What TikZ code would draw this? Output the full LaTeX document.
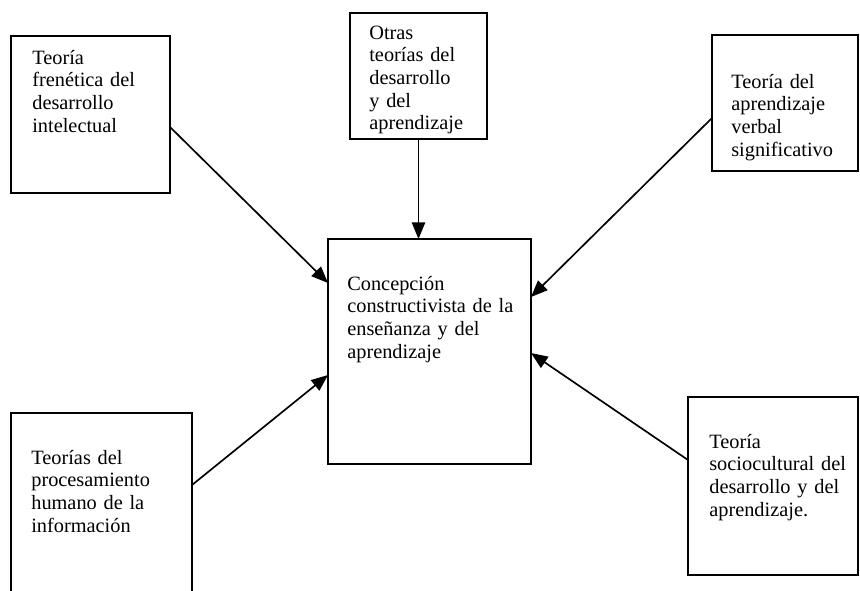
\documentclass[tikz,border=0pt]{standalone}
\usepackage{fontspec}
\setmainfont{Liberation Serif}
\usepackage{tikz}
\usetikzlibrary{arrows.meta}

\tikzset{
  caja/.style={draw,line width=1.2pt,rectangle,inner sep=0pt,outer sep=0pt},
  texto/.style={anchor=base west,inner sep=0pt,align=left,text width=130pt,
    font=\fontsize{12.2}{13.6}\selectfont},
  flecha/.style={-{Triangle[length=10pt,width=8pt]},line width=1pt}
}

\begin{document}
\begin{tikzpicture}[x=0.6pt,y=-0.6pt]
  \clip (0,0) rectangle (860,591);
  % boxes (pixel positions, y downwards)
  \node[caja,minimum width=95.4pt,minimum height=94.2pt] (A) at (90.5,114.5) {};
  \node[caja,minimum width=82.2pt,minimum height=75.6pt] (B) at (418.5,76) {};
  \node[caja,minimum width=87.6pt,minimum height=81.6pt] (C) at (785,103) {};
  \node[caja,minimum width=121.8pt,minimum height=135pt] (D) at (429.5,351.5) {};
  \node[caja,minimum width=108.6pt,minimum height=115.2pt] (E) at (101.5,509) {};
  \node[caja,minimum width=102pt,minimum height=106.8pt] (F) at (773,486) {};
  % texts inside the boxes
  \node[texto] (tA) at ([shift={(21,28)}]A.north west) {Teoría\\frenética del\\desarrollo\\intelectual};
  \node[texto] (tB) at ([shift={(19,26)}]B.north west) {Otras\\teorías del\\desarrollo\\y del\\aprendizaje};
  \node[texto] (tC) at ([shift={(19,53)}]C.north west) {Teoría del\\aprendizaje\\verbal\\significativo};
  \node[texto] (tD) at ([shift={(19,51)}]D.north west) {Concepción\\constructivista de la\\enseñanza y del\\aprendizaje};
  \node[texto] (tE) at ([shift={(20,51)}]E.north west) {Teorías del\\procesamiento\\humano de la\\información};
  \node[texto] (tF) at ([shift={(21,51)}]F.north west) {Teoría\\sociocultural del\\desarrollo y del\\aprendizaje.};
  % arrows into the central box
  \draw[flecha] ([shift={(0,12.5)}]A.east) -- ([shift={(0,-68.5)}]D.west);
  \draw[flecha] (B.south) -- (B.south |- D.north);
  \draw[flecha] ([shift={(0,15)}]C.west) -- ([shift={(0,-54.5)}]D.east);
  \draw[flecha] ([shift={(0,-24)}]E.east) -- ([shift={(0,23.5)}]D.west);
  \draw[flecha] ([shift={(0,-26)}]F.west) -- ([shift={(0,1.5)}]D.east);
\end{tikzpicture}
\end{document}
